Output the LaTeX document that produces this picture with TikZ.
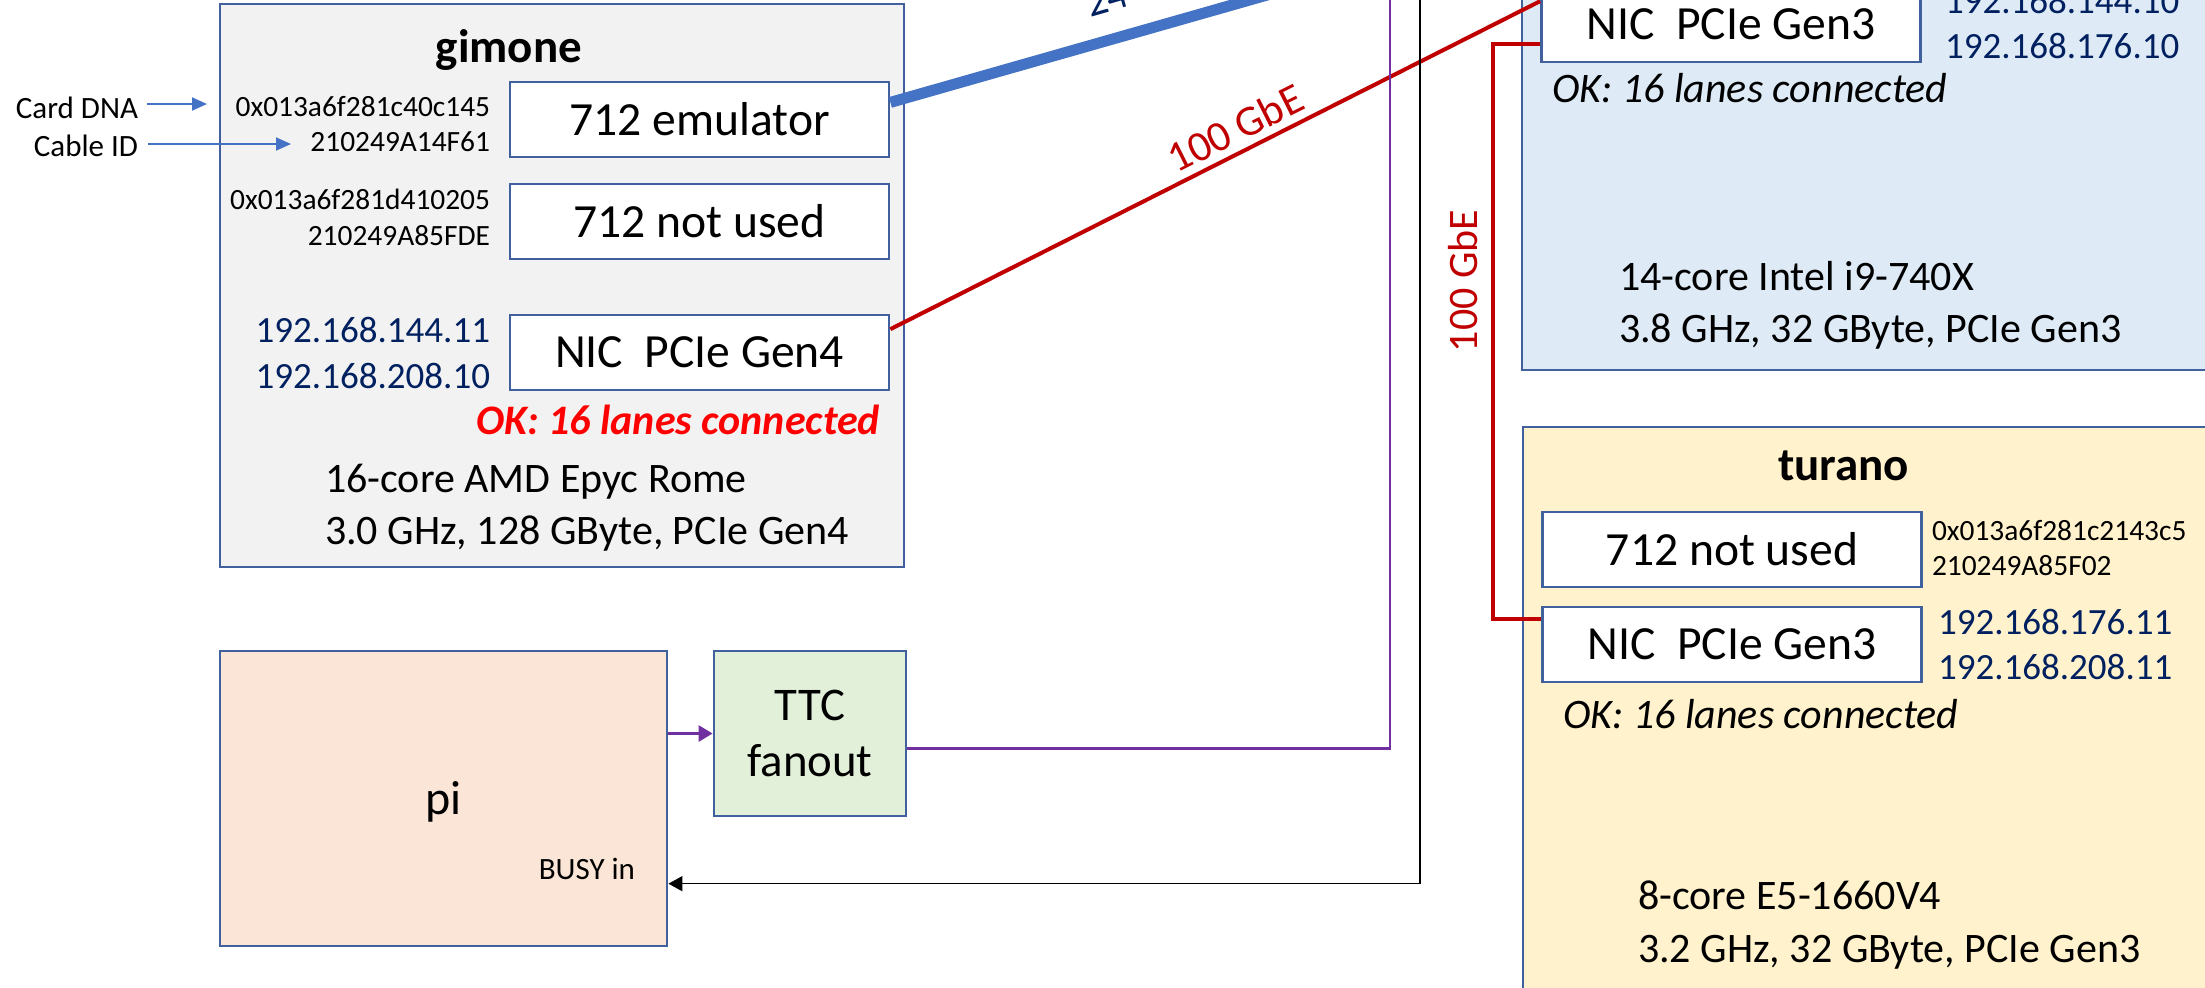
\documentclass[tikz,border=0pt]{standalone}
\usepackage{fontspec}
\setmainfont{Carlito}
\usetikzlibrary{arrows.meta,calc}
\definecolor{boxline}{HTML}{41609E}
\definecolor{navy}{HTML}{002060}
\definecolor{darkred}{HTML}{C00000}
\definecolor{brightred}{HTML}{FF0000}
\definecolor{accentblue}{HTML}{4472C4}
\definecolor{purp}{HTML}{7030A0}
\definecolor{fillgrey}{HTML}{F2F2F2}
\definecolor{fillblue}{HTML}{DEEBF7}
\definecolor{fillyellow}{HTML}{FFF2CC}
\definecolor{fillpeach}{HTML}{FBE5D6}
\definecolor{fillgreen}{HTML}{E2F0D9}
\begin{document}
\begin{tikzpicture}[x=0.5pt,y=-0.5pt,
  machine/.style={draw=boxline,line width=1.4pt,inner sep=0pt},
  card/.style={draw=boxline,line width=1.4pt,fill=white,inner sep=0pt,
    minimum width=189.5pt,minimum height=37.5pt,font=\fontsize{23.8}{28}\selectfont},
  txt/.style={inner sep=0pt,outer sep=0pt},
  title/.style={txt,font=\fontsize{23.5}{28}\selectfont\bfseries},
  spec/.style={txt,font=\fontsize{21}{25}\selectfont},
  ip/.style={txt,text=navy,font=\fontsize{18.5}{22}\selectfont},
  hex/.style={txt,font=\fontsize{14.7}{17}\selectfont},
  small/.style={txt,font=\fontsize{15.5}{18}\selectfont},
  redline/.style={draw=darkred,line width=2pt},
  ttcline/.style={draw=purp,line width=1.4pt},
  busyline/.style={draw=black,line width=0.75pt},
  infoarrow/.style={draw=accentblue,line width=1pt,-{Triangle[length=7.5pt,width=6.5pt]}}
]
\useasboundingbox (0,0) rectangle (2205,987);

% machines
\node[machine,fill=fillgrey,minimum width=342pt,minimum height=281.5pt] (gimone) at (562,285.5) {};
\node[machine,fill=fillpeach,minimum width=223.5pt,minimum height=147.5pt] (pi) at (443.5,798.5) {};
\node[machine,fill=fillgreen,minimum width=96pt,minimum height=82.5pt,align=center,
      font=\fontsize{23.4}{28}\selectfont] (ttc) at (810,733.5) {TTC\\fanout};
\node[machine,fill=fillblue,minimum width=359pt,minimum height=195pt] (hostA) at (1881,175) {};
\node[machine,fill=fillyellow,minimum width=358.5pt,minimum height=291.5pt] (turano) at (1881.5,718.5) {};

% gimone contents
\node[title,anchor=base] (gtitle) at (509,62) {gimone};
\node[card] (emu) at (699.5,119.5) {712 emulator};
\node[card] (unusedA) at (699.5,221.5) {712 not used};
\node[card] (nicA) at (699.5,352.5) {NIC~~PCIe Gen4};
\node[hex,anchor=base east] (hexA1) at (490,116) {0x013a6f281c40c145};
\node[hex,anchor=base east] (hexA2) at (490,151) {210249A14F61};
\node[hex,anchor=base east] (hexA3) at (490,209) {0x013a6f281d410205};
\node[hex,anchor=base east] (hexA4) at (490,245) {210249A85FDE};
\node[ip,anchor=base east] (ipA1) at (490,342) {192.168.144.11};
\node[ip,anchor=base east] (ipA2) at (490,388) {192.168.208.10};
\node[spec,anchor=base east,text=brightred,font=\fontsize{21}{25}\selectfont\bfseries\itshape] (okA) at (880,434) {OK: 16 lanes connected};
\node[spec,anchor=base west] (specA1) at (325,492) {16-core AMD Epyc Rome};
\node[spec,anchor=base west] (specA2) at (325,544) {3.0 GHz, 128 GByte, PCIe Gen4};

% legend arrows
\node[small,anchor=base east] (carddna) at (138,118) {Card DNA};
\node[small,anchor=base east] (cableid) at (138,156) {Cable ID};
\coordinate (cdnaA) at (147,104);
\coordinate (cdnaB) at (207,104);
\coordinate (cidA) at (148,144);
\coordinate (cidB) at (291,144);
\draw[infoarrow] (cdnaA) -- (cdnaB);
\draw[infoarrow] (cidA) -- (cidB);

% pi
\node[txt,anchor=base,font=\fontsize{24}{28}\selectfont] (pilabel) at (443.5,814) {pi};
\node[small,anchor=base east] (busy) at (635,879) {BUSY in};

% top right host
\node[card] (nicB) at (1731,24.5) {NIC~~PCIe Gen3};
\node[ip,anchor=base west] (ipB1) at (1945,13) {192.168.144.10};
\node[ip,anchor=base west] (ipB2) at (1945,58) {192.168.176.10};
\node[spec,anchor=base west,font=\fontsize{21}{25}\selectfont\itshape] (okB) at (1552,102) {OK: 16 lanes connected};
\node[spec,anchor=base west] (specB1) at (1619,290) {14-core Intel i9-740X};
\node[spec,anchor=base west] (specB2) at (1619,342) {3.8 GHz, 32 GByte, PCIe Gen3};

% turano
\node[title,anchor=base] (ttitle) at (1843.5,480) {turano};
\node[card] (unusedC) at (1732,549.5) {712 not used};
\node[card] (nicC) at (1732,644.5) {NIC~~PCIe Gen3};
\node[hex,anchor=base west] (hexC1) at (1932,540) {0x013a6f281c2143c5};
\node[hex,anchor=base west] (hexC2) at (1932,575) {210249A85F02};
\node[ip,anchor=base west] (ipC1) at (1938,634) {192.168.176.11};
\node[ip,anchor=base west] (ipC2) at (1938,679) {192.168.208.11};
\node[spec,anchor=base west,font=\fontsize{21}{25}\selectfont\itshape] (okC) at (1563,728) {OK: 16 lanes connected};
\node[spec,anchor=base west] (specC1) at (1638,909) {8-core E5-1660V4};
\node[spec,anchor=base west] (specC2) at (1638,962) {3.2 GHz, 32 GByte, PCIe Gen3};

% connectors
\coordinate (emuout) at ($(emu.north east)!0.28!(emu.south east)$);
\coordinate (bluetop) at (1390,-40);
\draw[draw=accentblue,line width=5.5pt] (emuout) -- (bluetop);
\node[txt,anchor=base west,rotate=16,text=navy,font=\fontsize{21}{25}\selectfont] (rate) at (1090,17) {24};

\coordinate (nicAout) at ($(nicA.north east)!0.2!(nicA.south east)$);
\coordinate (nicBin) at ($(nicB.north west)!0.2!(nicB.south west)$);
\draw[redline] (nicAout) -- (nicBin);
\node[txt,rotate=26.7,text=darkred,font=\fontsize{21.5}{25}\selectfont] (gbeA) at (1235,128) {100 GbE};

\coordinate (nicBout) at ($(nicB.north west)!0.75!(nicB.south west)$);
\coordinate (nicCin) at ($(nicC.north west)!0.17!(nicC.south west)$);
\draw[redline] (nicBout) -- ++(-47,0) |- (nicCin);
\node[txt,rotate=90,text=darkred,font=\fontsize{21}{25}\selectfont] (gbeB) at (1463,281) {100 GbE};

\draw[ttcline,-{Triangle[length=7pt,width=8pt]}] (pi.east |- ttc.west) -- (ttc.west);
\coordinate (ttcout) at ($(ttc.north east)!0.59!(ttc.south east)$);
\coordinate (purpletop) at (1390,-40);
\draw[ttcline] (ttcout) -| (purpletop);

\coordinate (blacktop) at (1420,-40);
\coordinate (busyin) at ($(pi.north east)!0.786!(pi.south east)$);
\draw[busyline,-{Triangle[length=7pt,width=7.5pt]}] (blacktop) |- (busyin);
\end{tikzpicture}
\end{document}
